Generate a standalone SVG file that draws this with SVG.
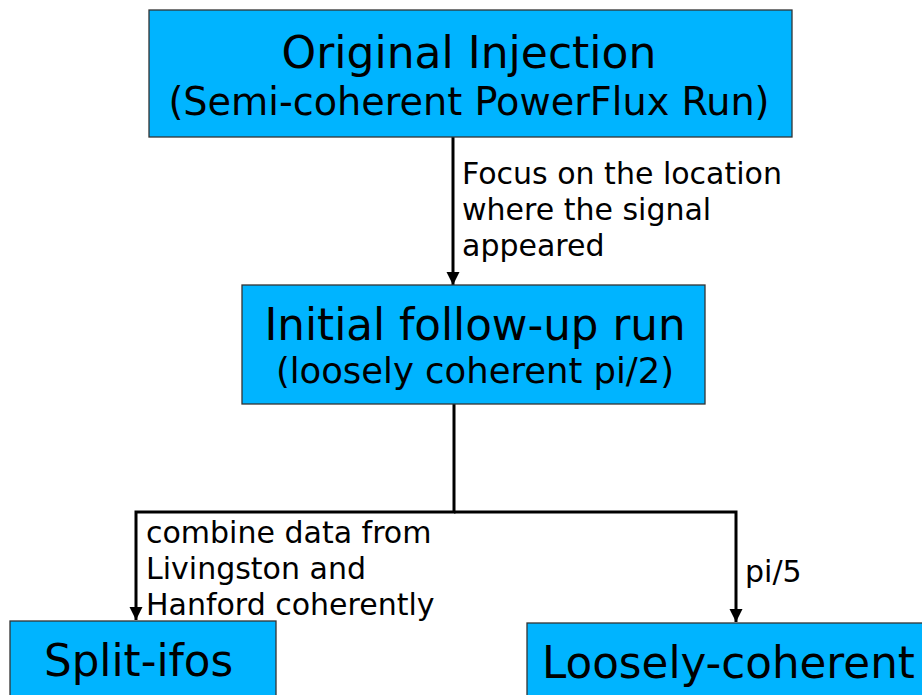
<svg xmlns="http://www.w3.org/2000/svg" width="922" height="695" viewBox="0 0 922 695">
<defs>
<style>
.box{fill:#00b4ff;stroke:#333;stroke-width:1.3}
.t{font-family:"DejaVu Sans",sans-serif;fill:#000}
.big{font-size:43.6px}
.lbl{font-size:30px}
.edge{fill:none;stroke:#000;stroke-width:3}
</style>
<marker id="ah" viewBox="0 0 10 10" refX="10" refY="5" markerWidth="4.5" markerHeight="5" markerUnits="strokeWidth" orient="auto">
<path d="M0,0 L10,5 L0,10 z" fill="#000"/>
</marker>
</defs>
<rect width="922" height="695" fill="#fff"/>
<g id="connectors">
<line class="edge" x1="453" y1="137" x2="453" y2="285" marker-end="url(#ah)"/>
<polyline class="edge" points="454,404 454,512 136,512 136,620" marker-end="url(#ah)"/>
<polyline class="edge" points="454,512 736,512 736,622" marker-end="url(#ah)"/>
<text class="t lbl" x="462" y="184">Focus on the location</text>
<text class="t lbl" x="462" y="220">where the signal</text>
<text class="t lbl" x="462" y="256">appeared</text>
<text class="t lbl" x="146" y="543">combine data from</text>
<text class="t lbl" x="146" y="579">Livingston and</text>
<text class="t lbl" x="146" y="615">Hanford coherently</text>
<text class="t lbl" x="745" y="582">pi/5</text>
</g>
<g id="original">
<rect class="box" x="149" y="10" width="643" height="127"/>
<text class="t" x="469" y="68" font-size="44" text-anchor="middle">Original Injection</text>
<text class="t" x="469" y="115" font-size="38.2" text-anchor="middle">(Semi-coherent PowerFlux Run)</text>
</g>
<g id="initial">
<rect class="box" x="242" y="285" width="463" height="119"/>
<text class="t big" x="475" y="340" text-anchor="middle">Initial follow-up run</text>
<text class="t" x="475" y="383" font-size="35.4" text-anchor="middle">(loosely coherent pi/2)</text>
</g>
<g id="split">
<rect class="box" x="10" y="621" width="266" height="90"/>
<text class="t big" x="44" y="676">Split-ifos</text>
</g>
<g id="loosely">
<rect class="box" x="527" y="623" width="410" height="90"/>
<text class="t big" x="542" y="678">Loosely-coherent</text>
</g>
</svg>
